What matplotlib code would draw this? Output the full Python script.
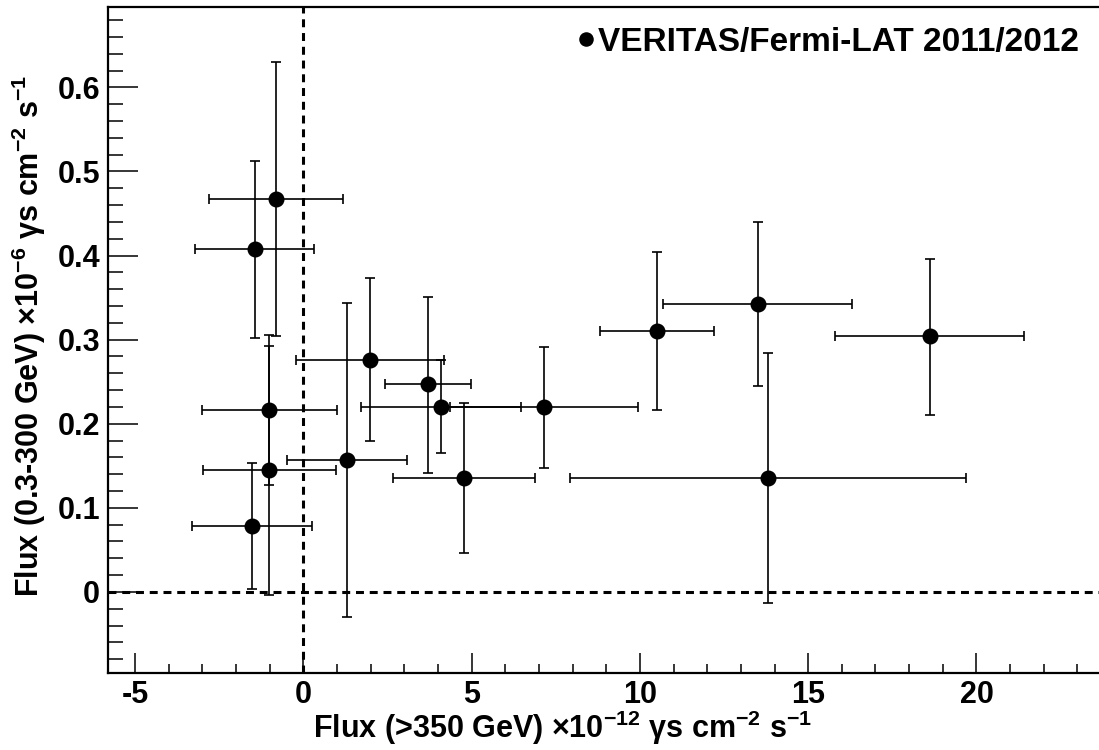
import numpy as np
import matplotlib
matplotlib.use('Agg')
import matplotlib.pyplot as plt

plt.rcParams['font.family'] = ['Liberation Sans', 'DejaVu Sans']
plt.rcParams['font.weight'] = 'bold'
plt.rcParams['mathtext.default'] = 'regular'
plt.rcParams['axes.unicode_minus'] = False

# VERITAS flux (>350 GeV), 1e-12 gammas cm^-2 s^-1
flux_vhe = np.array([-0.81, -1.44, -1.02, -1.02, -1.52, 1.29, 1.98, 3.70,
                     4.10, 4.77, 7.14, 10.50, 13.51, 13.81, 18.61])
xerr_lo = np.array([1.98, 1.78, 1.99, 1.96, 1.79, 1.78, 2.20, 1.28,
                    2.38, 2.10, 2.79, 1.69, 2.81, 5.89, 2.81])
xerr_hi = np.array([1.98, 1.75, 2.01, 1.98, 1.79, 1.79, 2.20, 1.28,
                    2.37, 2.11, 2.79, 1.71, 2.80, 5.88, 2.79])

# Fermi-LAT flux (0.3-300 GeV), 1e-6 gammas cm^-2 s^-1
flux_he = np.array([0.467, 0.408, 0.216, 0.145, 0.078, 0.157, 0.276, 0.247,
                    0.220, 0.135, 0.220, 0.310, 0.342, 0.136, 0.304])
yerr_lo = np.array([0.163, 0.106, 0.089, 0.149, 0.074, 0.187, 0.097, 0.105,
                    0.055, 0.089, 0.073, 0.094, 0.097, 0.149, 0.093])
yerr_hi = np.array([0.163, 0.104, 0.077, 0.160, 0.075, 0.187, 0.097, 0.104,
                    0.056, 0.090, 0.071, 0.094, 0.098, 0.148, 0.092])

legend_label = 'VERITAS/Fermi-LAT 2011/2012'

fig = plt.figure(figsize=(10.99, 7.5), dpi=100)
ax = fig.add_axes([0.0985, 0.1031, 0.9015, 0.8876])

ax.errorbar(flux_vhe, flux_he, xerr=[xerr_lo, xerr_hi], yerr=[yerr_lo, yerr_hi],
            fmt='none', ecolor='black', elinewidth=1.2, capsize=3.5, capthick=1.2)
ax.plot(flux_vhe, flux_he, 'o', color='black', markersize=10.5,
        label=legend_label, zorder=3)

# zero lines
ax.axhline(0, color='black', lw=2.2, ls=(0, (2.6, 1.9)), zorder=1)
ax.axvline(0, color='black', lw=2.2, ls=(0, (2.6, 1.9)), zorder=1)

ax.set_xlim(-5.793, 23.64)
ax.set_ylim(-0.096, 0.6956)
ax.set_xticks(np.arange(-5, 21, 5))
ax.set_xticks(np.arange(-5, 24, 1), minor=True)
ax.set_yticks(np.round(np.arange(0, 0.61, 0.1), 1))
ax.set_yticks(np.arange(-0.08, 0.69, 0.02), minor=True)
ax.set_yticklabels(['0', '0.1', '0.2', '0.3', '0.4', '0.5', '0.6'])

ax.tick_params(axis='x', which='major', direction='in', length=14.4, width=1.1,
               labelsize=22, pad=5)
ax.tick_params(axis='x', which='minor', direction='in', length=6.8, width=1.1)
ax.tick_params(axis='y', which='major', direction='in', length=21.6, width=1.1,
               labelsize=22, pad=6)
ax.tick_params(axis='y', which='minor', direction='in', length=10.8, width=1.1)

for s in ['left', 'bottom', 'top']:
    ax.spines[s].set_linewidth(1.6)
ax.spines['right'].set_visible(False)

fig.text(0.512, 0.016, 'Flux (>350 GeV) ×10$^{-12}$ γs cm$^{-2}$ s$^{-1}$',
         ha='center', va='baseline', fontsize=22, fontweight='bold')
fig.text(0.026, 0.552, 'Flux (0.3-300 GeV) ×10$^{-6}$ γs cm$^{-2}$ s$^{-1}$',
         ha='center', va='center', rotation=90, fontsize=22, fontweight='bold')

ax.legend(loc='upper right', bbox_to_anchor=(1.0, 1.0), frameon=False,
          fontsize=24, handlelength=0.5, handletextpad=0.1, borderaxespad=0.2,
          markerscale=0.9)

fig.savefig('out.png', dpi=100)
